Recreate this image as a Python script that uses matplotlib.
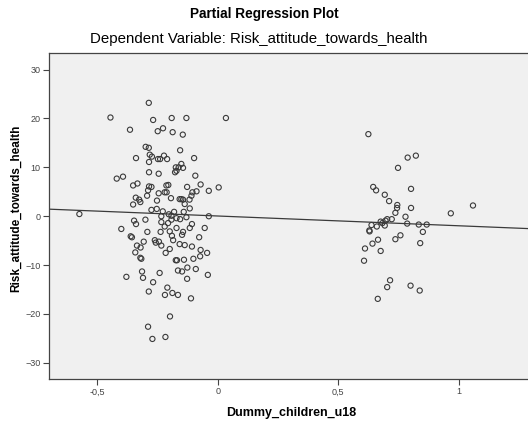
import numpy as np
import matplotlib
matplotlib.use("Agg")
import matplotlib.pyplot as plt

plt.rcParams['font.family'] = ['Liberation Sans', 'DejaVu Sans']

# residuals of Dummy_children_u18 (x) and Risk_attitude_towards_health (y)
x_left = [-0.286, -0.445, -0.268, -0.191, -0.130, 0.034, -0.364, -0.249, -0.227, -0.187,
          -0.145, -0.299, -0.286, -0.156, -0.339, -0.282, -0.273, -0.248, -0.239, -0.223,
          -0.210, -0.098, -0.285, -0.151, -0.174, -0.162, -0.144, -0.177, -0.171, -0.285,
          -0.245, -0.093, -0.419, -0.393,
          -0.351, -0.333, -0.285, -0.275, -0.213, -0.205, -0.127, -0.071, 0.004, -0.037,
          -0.289, -0.245, -0.220, -0.212, -0.088, -0.105, -0.109, -0.293, -0.340, -0.326,
          -0.321, -0.194, -0.158, -0.151, -0.144, -0.117, -0.252, -0.351, -0.137, -0.116,
          -0.141, -0.275, -0.253, -0.228, -0.203, -0.192, -0.181, -0.234, -0.171, -0.156,
          -0.130, -0.037, -0.347, -0.339, -0.300, -0.234, -0.220, -0.206, -0.192, -0.107,
          -0.116, -0.054, -0.400, -0.292, -0.237, -0.199, -0.171, -0.144, -0.148, -0.190,
          -0.361, -0.356, -0.077, -0.261, -0.244, -0.257, -0.307, -0.185, -0.158, -0.137,
          -0.107, -0.234, -0.335, -0.320, -0.199, -0.071, -0.342, -0.216, -0.044,
          -0.321, -0.317, -0.174, -0.169, -0.140, -0.101, -0.073, -0.126, -0.091, -0.165,
          -0.148, -0.314, -0.241, -0.379, -0.310, -0.041, -0.127, -0.268, -0.209, -0.286,
          -0.219, -0.188, -0.165, -0.111, -0.198, -0.289, -0.271, -0.217, -0.574]
y_left = [23.2, 20.2, 19.7, 20.1, 20.1, 20.1, 17.7, 17.4, 18.0, 17.2,
          16.7, 14.2, 14.0, 13.5, 11.9, 12.6, 12.2, 11.7, 11.7, 12.4,
          11.7, 11.9, 11.1, 10.7, 10.0, 10.0, 9.9, 9.0, 9.3, 9.0,
          8.7, 8.3, 7.7, 8.1,
          6.3, 6.7, 6.1, 6.0, 6.3, 6.4, 6.0, 6.5, 5.9, 5.2,
          5.3, 4.7, 4.9, 4.9, 5.1, 4.9, 4.2, 4.2, 3.8, 3.4,
          2.9, 3.7, 3.5, 3.5, 3.4, 3.4, 3.2, 2.4, 2.5, 1.6,
          0.9, 1.3, 1.5, 1.0, 0.4, 0.1, 0.9, 0.0, -0.4, -0.6,
          -0.2, 0.0, -0.9, -1.6, -0.7, -1.2, -2.1, -1.4, -0.7, -1.6,
          -2.4, -2.4, -2.6, -3.2, -3.2, -3.1, -2.4, -3.2, -3.8, -4.0,
          -4.1, -4.3, -4.3, -4.9, -5.2, -5.4, -5.2, -4.9, -5.7, -5.9,
          -6.2, -6.0, -6.0, -6.4, -6.7, -6.9, -7.4, -7.5, -7.5,
          -8.5, -8.7, -9.0, -9.0, -8.9, -8.7, -8.2, -10.5, -10.8, -11.1,
          -11.3, -11.3, -11.6, -12.4, -12.6, -12.0, -12.8, -13.5, -14.6, -15.4,
          -16.1, -15.7, -16.1, -16.8, -20.5, -22.6, -25.1, -24.7, 0.45]

x_right = [0.625, 0.788, 0.822, 0.748, 0.645, 0.657, 0.802, 0.693, 0.711, 0.745,
           1.059, 0.744, 0.802, 0.737, 0.967, 0.779, 0.786, 0.722, 0.703, 0.696,
           0.676, 0.683, 0.693, 0.638, 0.660, 0.629, 0.630, 0.834, 0.867, 0.851,
           0.758, 0.737, 0.665, 0.642, 0.676, 0.840, 0.611, 0.607, 0.715, 0.703,
           0.800, 0.838, 0.664]
y_right = [16.8, 12.0, 12.4, 9.9, 6.0, 5.3, 5.6, 4.4, 3.1, 2.3,
           2.2, 1.7, 1.7, 0.7, 0.6, -0.1, -1.5, -0.6, -0.6, -0.9,
           -1.1, -1.4, -1.9, -1.8, -2.1, -2.9, -3.1, -1.7, -1.7, -3.2,
           -3.9, -4.7, -4.8, -5.6, -7.1, -5.5, -6.6, -9.1, -13.1, -14.5,
           -14.2, -15.2, -16.9]

fit_slope = -2.0
fit_intercept = 0.05

x_ticks = [-0.5, 0, 0.5, 1]
x_tick_labels = ['-0,5', '0', '0,5', '1']
y_ticks = [-30, -20, -10, 0, 10, 20, 30]

fig = plt.figure(figsize=(5.28, 4.23), dpi=100)
ax = fig.add_axes([49/528, 44/423, 484/528, 326/423])
ax.set_facecolor('#f0f0f0')

xs = np.array(x_left + x_right)
ys = np.array(y_left + y_right)
ax.scatter(xs, ys, s=14, facecolors='none', edgecolors='#3a3a3a', linewidths=0.8, zorder=3)

xl = (-0.70, 1.308)
ax.set_xlim(xl)
ax.set_ylim(-33.3, 33.4)
lx = np.array(xl)
ax.plot(lx, fit_intercept + fit_slope * lx, color='#3a3a3a', lw=0.9, zorder=2)

ax.set_xticks(x_ticks)
ax.set_xticklabels(x_tick_labels)
ax.set_yticks(y_ticks)
ax.tick_params(direction='out', length=4, width=0.8, colors='#444444', labelsize=6.5, pad=2)
for s in ax.spines.values():
    s.set_color('#444444')
    s.set_linewidth(0.9)

ax.set_xlabel('Dummy_children_u18', fontsize=9, fontweight='bold', labelpad=8)
ax.set_ylabel('Risk_attitude_towards_health', fontsize=8.5, fontweight='bold')
ax.yaxis.set_label_coords(-0.055, 0.525)

fig.text(0.5, 1 - 14/423, 'Partial Regression Plot', ha='center', va='center',
         fontsize=9.8, fontweight='bold')
fig.text(0.49, 1 - 39/423, 'Dependent Variable: Risk_attitude_towards_health',
         ha='center', va='center', fontsize=10.8)

fig.savefig('out.png', dpi=100)
